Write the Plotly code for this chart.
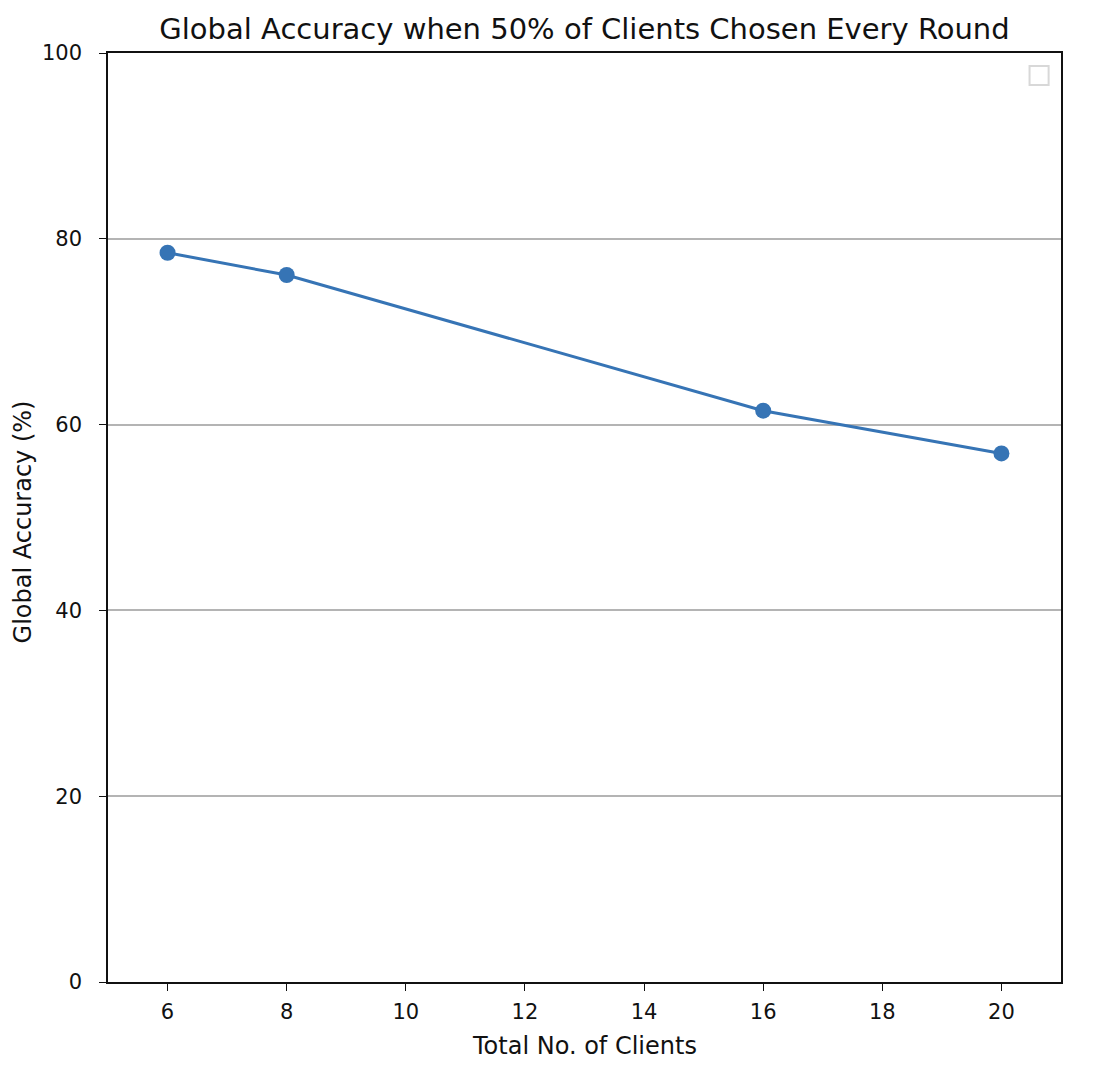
import plotly.graph_objects as go

clients = [6, 8, 16, 20]
accuracy = [78.5, 76.1, 61.5, 56.9]
x_ticks = [6, 8, 10, 12, 14, 16, 18, 20]
y_ticks = [0, 20, 40, 60, 80, 100]

fig = go.Figure()
fig.add_trace(go.Scatter(
    x=clients, y=accuracy, mode="lines+markers",
    line=dict(color="#3674b5", width=3),
    marker=dict(color="#3674b5", size=16),
    showlegend=False,
))

tick_font = dict(family="DejaVu Sans", size=21, color="#111")
label_font = dict(family="DejaVu Sans", size=24, color="#111")
fig.update_layout(
    width=1096, height=1084,
    margin=dict(l=100, r=43, t=45, b=110),
    paper_bgcolor="white", plot_bgcolor="white",
    font=dict(family="DejaVu Sans", size=21, color="#111"),
    title=dict(text="Global Accuracy when 50% of Clients Chosen Every Round",
               x=0.5, xref="paper", xanchor="center",
               y=1 - 21 / 1084, yanchor="middle",
               font=dict(family="DejaVu Sans", size=29, color="#111")),
    xaxis=dict(range=[5, 21], tickvals=x_ticks, showgrid=False, zeroline=False,
               showline=True, linecolor="#111", linewidth=1.5, mirror=True,
               ticks="outside", ticklen=7, tickcolor="#111", tickfont=tick_font,
               ticklabelstandoff=3),
    yaxis=dict(range=[0, 100], tickvals=y_ticks, showgrid=True, gridcolor="#b4b4b4",
               gridwidth=1.5, zeroline=False,
               showline=True, linecolor="#111", linewidth=1.5, mirror=True,
               ticks="outside", ticklen=7, tickcolor="#111", tickfont=tick_font,
               ticklabelstandoff=13),
)

fig.add_annotation(text="Total No. of Clients", xref="paper", yref="paper",
                   x=0.5, y=-0.0689, xanchor="center", yanchor="middle",
                   showarrow=False, font=label_font)
fig.add_annotation(text="Global Accuracy (%)", xref="paper", yref="paper",
                   x=-0.0882, y=0.4957, xanchor="center", yanchor="middle",
                   textangle=-90, showarrow=False, font=label_font)

# empty legend box (as in the reference)
fig.add_shape(type="rect", xref="paper", yref="paper",
              x0=0.967, x1=0.987, y0=0.9655, y1=0.986,
              line=dict(color="#d8d8d8", width=2), fillcolor="white", layer="above")

fig.write_html("out.html")
